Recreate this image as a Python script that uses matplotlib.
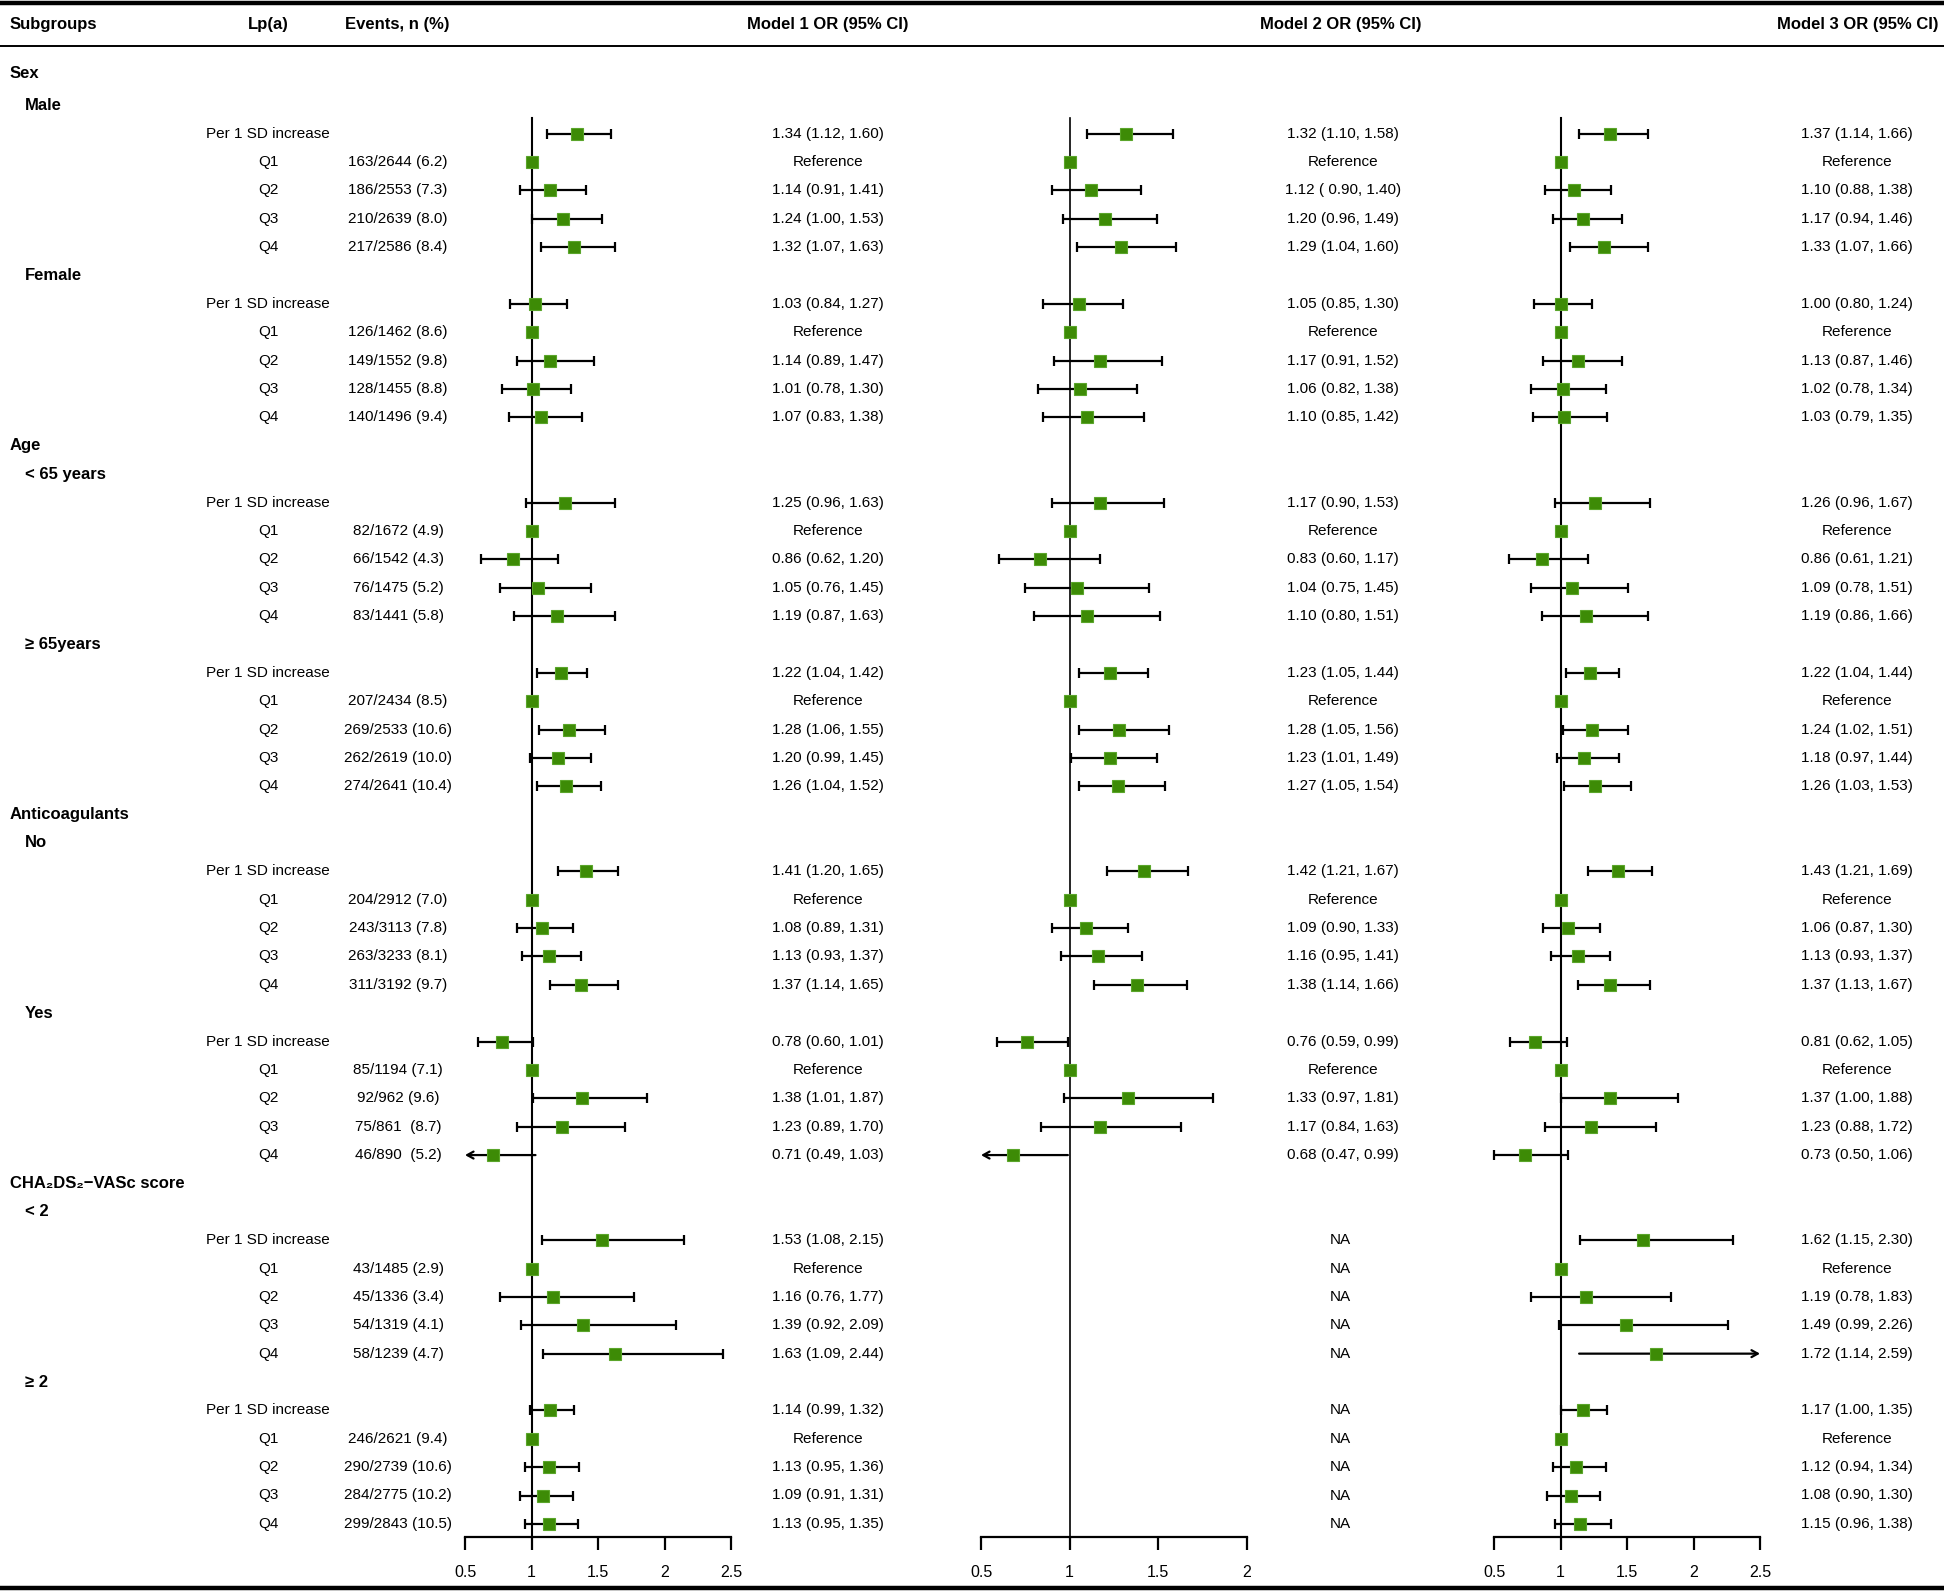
import matplotlib
matplotlib.use("Agg")
import matplotlib.pyplot as plt

plt.rcParams['font.family'] = ['Liberation Sans', 'DejaVu Sans']

# ---------------- data ----------------
groups = ["Sex", "Age", "Anticoagulants", "CHA\u2082DS\u2082\u2212VASc score"]
subgroups = [["Male", "Female"], ["< 65 years", "\u2265 65years"],
             ["No", "Yes"], ["< 2", "\u2265 2"]]
lpa_levels = ["Per 1 SD increase", "Q1", "Q2", "Q3", "Q4"]

events = [
    ["", "163/2644 (6.2)", "186/2553 (7.3)", "210/2639 (8.0)", "217/2586 (8.4)"],
    ["", "126/1462 (8.6)", "149/1552 (9.8)", "128/1455 (8.8)", "140/1496 (9.4)"],
    ["", "82/1672 (4.9)", "66/1542 (4.3)", "76/1475 (5.2)", "83/1441 (5.8)"],
    ["", "207/2434 (8.5)", "269/2533 (10.6)", "262/2619 (10.0)", "274/2641 (10.4)"],
    ["", "204/2912 (7.0)", "243/3113 (7.8)", "263/3233 (8.1)", "311/3192 (9.7)"],
    ["", "85/1194 (7.1)", "92/962 (9.6)", "75/861  (8.7)", "46/890  (5.2)"],
    ["", "43/1485 (2.9)", "45/1336 (3.4)", "54/1319 (4.1)", "58/1239 (4.7)"],
    ["", "246/2621 (9.4)", "290/2739 (10.6)", "284/2775 (10.2)", "299/2843 (10.5)"],
]

# Model 1 (rows: Per 1 SD, Q1 (reference), Q2, Q3, Q4)
m1_or = [[1.34, 1.00, 1.14, 1.24, 1.32], [1.03, 1.00, 1.14, 1.01, 1.07],
         [1.25, 1.00, 0.86, 1.05, 1.19], [1.22, 1.00, 1.28, 1.20, 1.26],
         [1.41, 1.00, 1.08, 1.13, 1.37], [0.78, 1.00, 1.38, 1.23, 0.71],
         [1.53, 1.00, 1.16, 1.39, 1.63], [1.14, 1.00, 1.13, 1.09, 1.13]]
m1_lo = [[1.12, None, 0.91, 1.00, 1.07], [0.84, None, 0.89, 0.78, 0.83],
         [0.96, None, 0.62, 0.76, 0.87], [1.04, None, 1.06, 0.99, 1.04],
         [1.20, None, 0.89, 0.93, 1.14], [0.60, None, 1.01, 0.89, 0.49],
         [1.08, None, 0.76, 0.92, 1.09], [0.99, None, 0.95, 0.91, 0.95]]
m1_hi = [[1.60, None, 1.41, 1.53, 1.63], [1.27, None, 1.47, 1.30, 1.38],
         [1.63, None, 1.20, 1.45, 1.63], [1.42, None, 1.55, 1.45, 1.52],
         [1.65, None, 1.31, 1.37, 1.65], [1.01, None, 1.87, 1.70, 1.03],
         [2.15, None, 1.77, 2.09, 2.44], [1.32, None, 1.36, 1.31, 1.35]]

# Model 2 (None = NA)
m2_or = [[1.32, 1.00, 1.12, 1.20, 1.29], [1.05, 1.00, 1.17, 1.06, 1.10],
         [1.17, 1.00, 0.83, 1.04, 1.10], [1.23, 1.00, 1.28, 1.23, 1.27],
         [1.42, 1.00, 1.09, 1.16, 1.38], [0.76, 1.00, 1.33, 1.17, 0.68],
         [None, None, None, None, None], [None, None, None, None, None]]
m2_lo = [[1.10, None, 0.90, 0.96, 1.04], [0.85, None, 0.91, 0.82, 0.85],
         [0.90, None, 0.60, 0.75, 0.80], [1.05, None, 1.05, 1.01, 1.05],
         [1.21, None, 0.90, 0.95, 1.14], [0.59, None, 0.97, 0.84, 0.47],
         [None, None, None, None, None], [None, None, None, None, None]]
m2_hi = [[1.58, None, 1.40, 1.49, 1.60], [1.30, None, 1.52, 1.38, 1.42],
         [1.53, None, 1.17, 1.45, 1.51], [1.44, None, 1.56, 1.49, 1.54],
         [1.67, None, 1.33, 1.41, 1.66], [0.99, None, 1.81, 1.63, 0.99],
         [None, None, None, None, None], [None, None, None, None, None]]
m2_text_override = {(0, 2): "1.12 ( 0.90, 1.40)"}

# Model 3
m3_or = [[1.37, 1.00, 1.10, 1.17, 1.33], [1.00, 1.00, 1.13, 1.02, 1.03],
         [1.26, 1.00, 0.86, 1.09, 1.19], [1.22, 1.00, 1.24, 1.18, 1.26],
         [1.43, 1.00, 1.06, 1.13, 1.37], [0.81, 1.00, 1.37, 1.23, 0.73],
         [1.62, 1.00, 1.19, 1.49, 1.72], [1.17, 1.00, 1.12, 1.08, 1.15]]
m3_lo = [[1.14, None, 0.88, 0.94, 1.07], [0.80, None, 0.87, 0.78, 0.79],
         [0.96, None, 0.61, 0.78, 0.86], [1.04, None, 1.02, 0.97, 1.03],
         [1.21, None, 0.87, 0.93, 1.13], [0.62, None, 1.00, 0.88, 0.50],
         [1.15, None, 0.78, 0.99, 1.14], [1.00, None, 0.94, 0.90, 0.96]]
m3_hi = [[1.66, None, 1.38, 1.46, 1.66], [1.24, None, 1.46, 1.34, 1.35],
         [1.67, None, 1.21, 1.51, 1.66], [1.44, None, 1.51, 1.44, 1.53],
         [1.69, None, 1.30, 1.37, 1.67], [1.05, None, 1.88, 1.72, 1.06],
         [2.30, None, 1.83, 2.26, 2.59], [1.35, None, 1.34, 1.30, 1.38]]

models = [
    dict(title="Model 1 OR (95% CI)", est=m1_or, lo=m1_lo, hi=m1_hi, over={},
         xlim=(0.5, 2.5), ticks=[0.5, 1, 1.5, 2, 2.5], ticklabels=["0.5", "1", "1.5", "2", "2.5"]),
    dict(title="Model 2 OR (95% CI)", est=m2_or, lo=m2_lo, hi=m2_hi, over=m2_text_override,
         xlim=(0.5, 2.0), ticks=[0.5, 1, 1.5, 2], ticklabels=["0.5", "1", "1.5", "2"]),
    dict(title="Model 3 OR (95% CI)", est=m3_or, lo=m3_lo, hi=m3_hi, over={},
         xlim=(0.5, 2.5), ticks=[0.5, 1, 1.5, 2, 2.5], ticklabels=["0.5", "1", "1.5", "2", "2.5"]),
]

# ---------------- layout ----------------
W, H = 1944, 1593
ROW0, ROWH = 77.0, 28.37          # pixel y of row 0 and row pitch
def px2row(p):
    return (p - ROW0) / ROWH
YTOP, YBOT = px2row(0), px2row(H)

panel_px = [(465, 266), (981, 266), (1494, 266)]   # left pixel, width
text_cx = [828, 1343, 1857]                          # centre of OR text columns
title_rx = [908, 1421, 1938]
green = "#3d8b06"
green_edge = "#5aa52a"
FS = 11
FSB = 12

fig = plt.figure(figsize=(W / 100, H / 100), dpi=100)
ax0 = fig.add_axes([0, 0, 1, 1])
ax0.set_xlim(0, W)
ax0.set_ylim(YBOT, YTOP)
ax0.axis("off")

# horizontal rules
ax0.axhline(px2row(3), color="black", lw=3.2)
ax0.axhline(px2row(46), color="black", lw=1.4)
ax0.axhline(px2row(1588), color="black", lw=3.2)

# headers
yh = px2row(24)
ax0.text(10, yh, "Subgroups", fontsize=FSB, fontweight="bold", va="center", ha="left")
ax0.text(268, yh, "Lp(a)", fontsize=FSB, fontweight="bold", va="center", ha="center")
ax0.text(345, yh, "Events, n (%)", fontsize=FSB, fontweight="bold", va="center", ha="left")
for m, rx in zip(models, title_rx):
    ax0.text(rx, yh, m["title"], fontsize=FSB, fontweight="bold", va="center", ha="right")

# row positions
row_of = []       # (subgroup index, level index, row)
r = 0
for gi, g in enumerate(groups):
    ax0.text(10, r - (0.12 if gi == 0 else 0), g, fontsize=FSB, fontweight="bold",
             va="center", ha="left")
    r += 1
    for si, s in enumerate(subgroups[gi]):
        ax0.text(25, r, s, fontsize=FSB, fontweight="bold", va="center", ha="left")
        r += 1
        sidx = gi * 2 + si
        for li, lev in enumerate(lpa_levels):
            ax0.text(268, r, lev, fontsize=FS, va="center", ha="center")
            if events[sidx][li]:
                ax0.text(398, r, events[sidx][li], fontsize=FS, va="center", ha="center")
            row_of.append((sidx, li, r))
            r += 1
last_row = r - 1
axis_row = last_row + 0.47

# panels
for mi, m in enumerate(models):
    lpx, wpx = panel_px[mi]
    ax = fig.add_axes([lpx / W, 0, wpx / W, 1])
    ax.set_xlim(*m["xlim"])
    ax.set_ylim(YBOT, YTOP)
    ax.patch.set_alpha(0)
    for sp in ["top", "left", "right"]:
        ax.spines[sp].set_visible(False)
    ax.spines["bottom"].set_position(("data", axis_row))
    ax.spines["bottom"].set_linewidth(1.6)
    ax.set_yticks([])
    ax.set_xticks(m["ticks"])
    ax.set_xticklabels(m["ticklabels"])
    ax.tick_params(axis="x", direction="out", length=9, width=1.6, pad=11, labelsize=11.5)
    xmin, xmax = m["xlim"]

    # reference line at OR = 1
    ax.plot([1, 1], [1.45, axis_row], color="black", lw=1.5 if mi != 1 else 1.2,
            zorder=1, clip_on=False)

    for sidx, li, row in row_of:
        est = m["est"][sidx][li]
        lo = m["lo"][sidx][li]
        hi = m["hi"][sidx][li]
        key = (sidx, li)
        if est is None:
            label = "NA"
        elif lo is None:
            label = "Reference"
        else:
            label = m["over"].get(key, f"{est:.2f} ({lo:.2f}, {hi:.2f})")
        ax0.text(text_cx[mi] - (3 if est is None else 0), row, label, fontsize=FS,
                 va="center", ha="center")
        if est is None:
            continue
        if lo is not None:
            if lo < xmin:
                ax.annotate("", xy=(xmin, row), xytext=(hi, row),
                            arrowprops=dict(arrowstyle="->,head_length=0.45,head_width=0.25",
                                            lw=1.6, color="black", shrinkA=0, shrinkB=0),
                            annotation_clip=False, zorder=2)
            elif hi > xmax:
                ax.annotate("", xy=(xmax, row), xytext=(lo, row),
                            arrowprops=dict(arrowstyle="->,head_length=0.45,head_width=0.25",
                                            lw=1.6, color="black", shrinkA=0, shrinkB=0),
                            annotation_clip=False, zorder=2)
            else:
                ax.errorbar([est], [row], xerr=[[est - lo], [hi - est]], fmt="none",
                            ecolor="black", elinewidth=1.6, capsize=3.6, capthick=1.6,
                            zorder=2, clip_on=False)
        ax.plot([est], [row], marker="s", ms=9, color=green, mec=green_edge, mew=0.8,
                zorder=3, clip_on=False)

fig.savefig("out.png", dpi=100)
